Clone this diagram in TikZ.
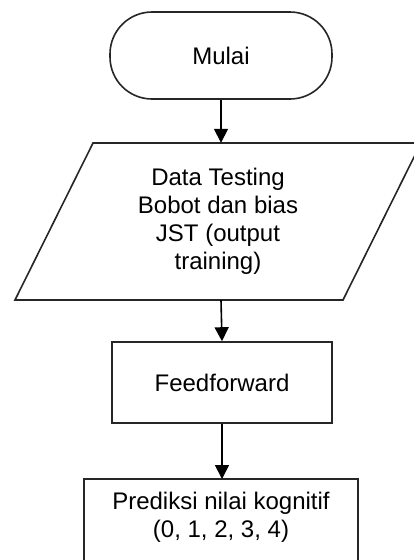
\documentclass[tikz,border=0pt]{standalone}
\usepackage{fontspec}
\setmainfont{Liberation Sans}
\usetikzlibrary{arrows.meta}
\begin{document}
\begin{tikzpicture}[x=1pt,y=-1pt,
  box/.style={draw=black!85, line width=1.6pt, fill=white, align=center, inner sep=0pt,
    font=\fontsize{24}{28}\selectfont},
  txt/.style={align=center, inner sep=0pt, font=\fontsize{24}{28}\selectfont},
  flow/.style={draw=black, line width=1.6pt, -{Triangle[width=14pt,length=14pt]}}]
\useasboundingbox (0,0) rectangle (414,560);
\clip (0,0) rectangle (414,560);
% terminal
\node[box, rounded corners=42pt, minimum width=222pt, minimum height=87pt] (start) at (221,55.5) {Mulai};
% parallelogram
\draw[draw=black!85, line width=1.6pt, fill=white] (93,143) -- (421,143) -- (343,300) -- (15,300) -- cycle;
\node[txt, minimum height=157pt] (data) at (218,221.5) {Data Testing\\Bobot dan bias\\JST (output\\training)};
% process
\node[box, minimum width=220pt, minimum height=81pt] (ff) at (222,382.5) {Feedforward};
% output box (bottom cut off)
\draw[draw=black!85, line width=1.6pt, fill=white] (84,600) -- (84,479) -- (358,479) -- (358,600);
\node[txt] (pred) at (221,517) {Prediksi nilai kognitif\\(0, 1, 2, 3, 4)};
\coordinate (predtop) at (221,479);
% connectors
\draw[flow] (start.south) -- (start.south |- data.north);
\draw[flow] (start.south |- data.south) -- (ff.north);
\draw[flow] (ff.south) -- (ff.south |- predtop);
\end{tikzpicture}
\end{document}
